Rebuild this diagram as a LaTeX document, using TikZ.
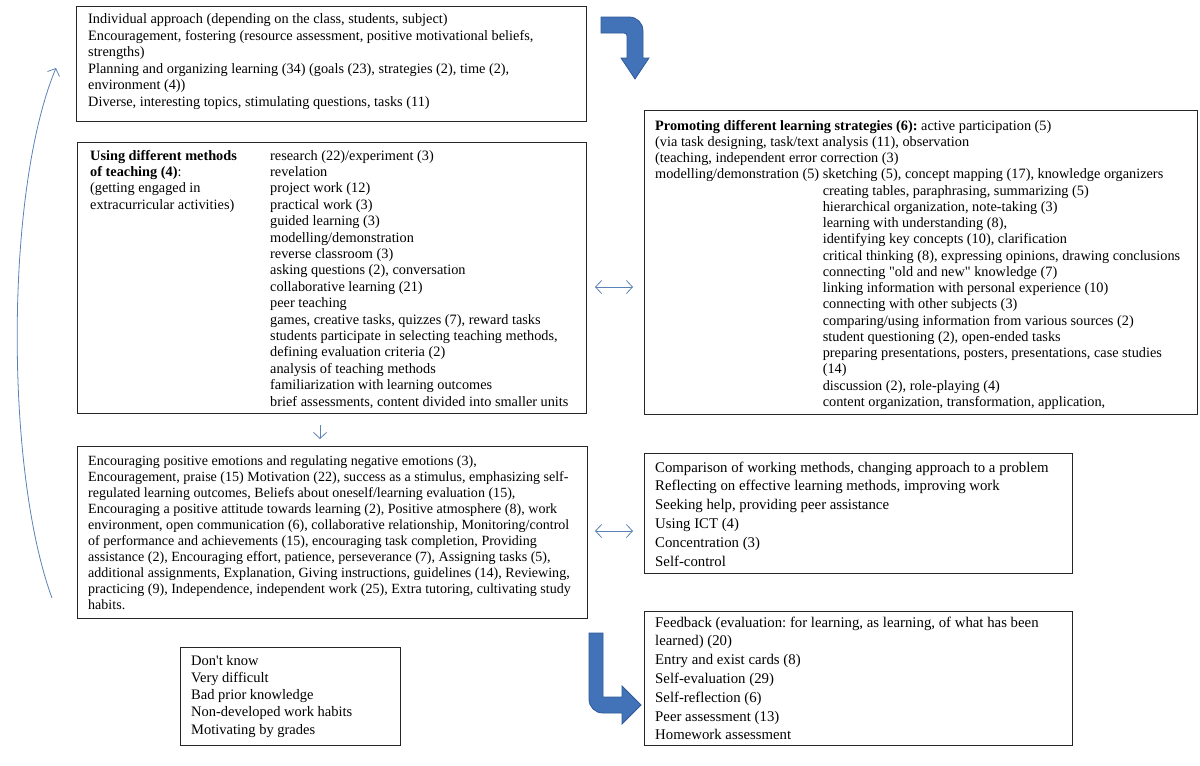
\documentclass[tikz,border=0pt]{standalone}
\usepackage{fontspec}
\setmainfont{Liberation Serif}[Ligatures=TeXOff]
\usetikzlibrary{arrows.meta}
\definecolor{thinblue}{HTML}{5B82B8}
\definecolor{bigblue}{HTML}{4273B9}
\definecolor{bigedge}{HTML}{2F5A97}
\newcommand\fa{\fontsize{14.3}{16.6}\selectfont\frenchspacing}
\newcommand\fb{\fontsize{14.3}{16.4}\selectfont\frenchspacing}
\newcommand\fc{\fontsize{14.3}{16.25}\selectfont\frenchspacing}
\newcommand\fd{\fontsize{14.05}{16.1}\selectfont\frenchspacing}
\newcommand\fe{\fontsize{14.8}{18.8}\selectfont\frenchspacing}
\newcommand\ff{\fontsize{14.5}{17.25}\selectfont\frenchspacing}
\newcommand\natsp{\spaceskip=0pt\xspaceskip=0pt\relax}
\newcommand\myind{\hphantom{modelling/demonstration (5)}\ }
\begin{document}
\begin{tikzpicture}[x=1pt,y=-1pt,
  box/.style={draw=black!85, line width=0.9pt, inner sep=0pt, anchor=north west},
  txt/.style={inner sep=0pt, anchor=base west, align=left, text width=#1},
  thinarrow/.style={draw=thinblue, line width=0.8pt},
  barb/.tip={Straight Barb[length=6pt,width=13pt,line width=0.8pt]},
  bigarrow/.style={fill=bigblue, draw=bigedge, line width=0.8pt}]
\useasboundingbox (0,0) rectangle (1200,766);
\fill[white] (0,0) rectangle (1200,766);

% boxes
\node[box, minimum width=510pt, minimum height=115pt] (b1) at (76,6) {};
\node[box, minimum width=509pt, minimum height=271pt] (b2) at (77,142) {};
\node[box, minimum width=510pt, minimum height=172pt] (b3) at (77,446) {};
\node[box, minimum width=553pt, minimum height=304pt] (r1) at (644,110) {};
\node[box, minimum width=428pt, minimum height=120pt] (r2) at (644,453) {};
\node[box, minimum width=428pt, minimum height=134pt] (r3) at (644,611) {};
\node[box, minimum width=220pt, minimum height=98pt] (b4) at (180,647) {};

% texts
\node[txt=500pt, font=\fa] (t1) at (88,23.5) {\natsp Individual approach (depending on the class, students, subject)\\
Encouragement, fostering (resource assessment, positive motivational beliefs,\\
strengths)\\
Planning and organizing learning (34) (goals (23), strategies (2), time (2),\\
environment (4))\\
Diverse, interesting topics, stimulating questions, tasks (11)};

\node[txt=180pt, font=\fb] (t2a) at (90,160) {\natsp\textbf{Using different methods}\\
\textbf{of teaching (4)}:\\
(getting engaged in\\
extracurricular activities)};

\node[txt=320pt, font=\fb] (t2b) at (270,160) {\natsp research (22)/experiment (3)\\
revelation\\
project work (12)\\
practical work (3)\\
guided learning (3)\\
modelling/demonstration\\
reverse classroom (3)\\
asking questions (2), conversation\\
collaborative learning (21)\\
peer teaching\\
games, creative tasks, quizzes (7), reward tasks\\
students participate in selecting teaching methods,\\
defining evaluation criteria (2)\\
analysis of teaching methods\\
familiarization with learning outcomes\\
brief assessments, content divided into smaller units};

\node[txt=540pt, font=\fc] (t3) at (655,130) {\natsp\textbf{Promoting different learning strategies (6):} active participation (5)\\
(via task designing, task/text analysis (11), observation\\
(teaching, independent error correction (3)\\
modelling/demonstration (5) sketching (5), concept mapping (17), knowledge organizers\\
\myind creating tables, paraphrasing, summarizing (5)\\
\myind hierarchical organization, note-taking (3)\\
\myind learning with understanding (8),\\
\myind identifying key concepts (10), clarification\\
\myind critical thinking (8), expressing opinions, drawing conclusions\\
\myind connecting "old and new" knowledge (7)\\
\myind linking information with personal experience (10)\\
\myind connecting with other subjects (3)\\
\myind comparing/using information from various sources (2)\\
\myind student questioning (2), open-ended tasks\\
\myind preparing presentations, posters, presentations, case studies\\
\myind (14)\\
\myind discussion (2), role-playing (4)\\
\myind content organization, transformation, application,};

\node[txt=500pt, font=\fd] (t4) at (88,465) {\natsp Encouraging positive emotions and regulating negative emotions (3),\\
Encouragement, praise (15) Motivation (22), success as a stimulus, emphasizing self-\\
regulated learning outcomes, Beliefs about oneself/learning evaluation (15),\\
Encouraging a positive attitude towards learning (2), Positive atmosphere (8), work\\
environment, open communication (6), collaborative relationship, Monitoring/control\\
of performance and achievements (15), encouraging task completion, Providing\\
assistance (2), Encouraging effort, patience, perseverance (7), Assigning tasks (5),\\
additional assignments, Explanation, Giving instructions, guidelines (14), Reviewing,\\
practicing (9), Independence, independent work (25), Extra tutoring, cultivating study\\
habits.};

\node[txt=420pt, font=\fe] (t5) at (655,472) {\natsp Comparison of working methods, changing approach to a problem\\
Reflecting on effective learning methods, improving work\\
Seeking help, providing peer assistance\\
Using ICT (4)\\
Concentration (3)\\
Self-control};

\node[txt=420pt, font=\fe] (t6) at (655,627) {\natsp Feedback (evaluation: for learning, as learning, of what has been\\
learned) (20)\\
Entry and exist cards (8)\\
Self-evaluation (29)\\
Self-reflection (6)\\
Peer assessment (13)\\
Homework assessment};

\node[txt=210pt, font=\ff] (t7) at (191,665) {\natsp Don't know\\
Very difficult\\
Bad prior knowledge\\
Non-developed work habits\\
Motivating by grades};

% thin connectors
\coordinate (p1) at (595,287);
\coordinate (p2) at (633,287);
\draw[thinarrow, barb-barb] (p1) -- (p2);
\coordinate (q1) at (595,531);
\coordinate (q2) at (633,531);
\draw[thinarrow, barb-barb] (q1) -- (q2);
\coordinate (d1) at (320,425);
\coordinate (d2) at (320,439);
\draw[thinarrow, -barb] (d1) -- (d2);
\coordinate (cs) at (52,598);
\coordinate (ce) at (56,68);
\draw[thinarrow, -barb] (cs) .. controls (5,470) and (5,190) .. (ce);

% big bent arrows
\filldraw[bigarrow] (601,17) -- (629,17) .. controls (637,17) and (643,23) .. (643,31)
  -- (643,58) -- (649,58) -- (635,79) -- (621,58) -- (627,58) -- (627,36)
  .. controls (627,34) and (626,33) .. (624,33) -- (601,33) -- cycle;
\filldraw[bigarrow] (589,633) -- (603,633) -- (603,697) -- (622,697) -- (622,686)
  -- (641,705) -- (622,724) -- (622,713) -- (603,713)
  .. controls (595,713) and (589,707) .. (589,699) -- cycle;
\end{tikzpicture}
\end{document}
